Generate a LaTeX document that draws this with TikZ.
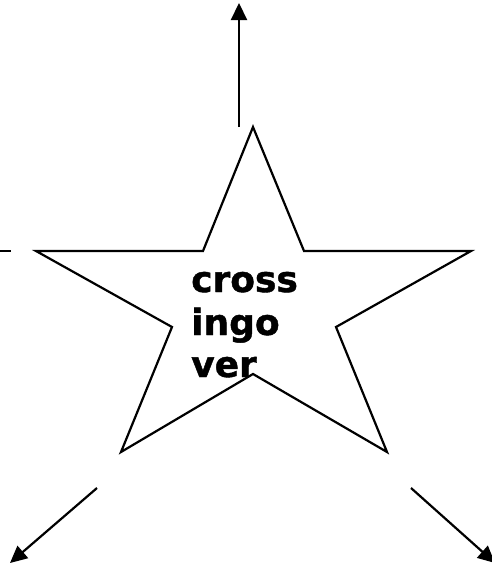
\documentclass[tikz,border=0pt]{standalone}
\usepackage{fontspec}
\setmainfont{DejaVu Sans}
\usetikzlibrary{arrows.meta}
\tikzset{
  edge/.style={line width=2.2pt, line join=miter},
  arrowline/.style={line width=2.2pt, -{Triangle[length=17pt,width=16pt]}},
  label/.style={font=\bfseries\fontsize{36pt}{43pt}\selectfont, anchor=base west, inner sep=0pt, align=left}
}
\begin{document}
\begin{tikzpicture}[x=1pt,y=-1pt]
\useasboundingbox (0,0) rectangle (491,565);
% star points
\coordinate (top) at (253,127);
\coordinate (ir1) at (304,251);
\coordinate (right) at (471,251);
\coordinate (ir2) at (336,327);
\coordinate (br) at (387,452);
\coordinate (ib) at (253,374);
\coordinate (bl) at (121,452);
\coordinate (il2) at (172,327);
\coordinate (left) at (36,251);
\coordinate (il1) at (203,251);
\draw[edge] (top) -- (ir1) -- (right) -- (ir2) -- (br) -- (ib) -- (bl) -- (il2) -- (left) -- (il1) -- cycle;
% text
\node[label] (t1) at (191,292) {\addfontfeature{FakeBold=1.2}cross};
\node[label] (t2) at (191,335) {\addfontfeature{FakeBold=1.2}ingo};
\node[label] (t3) at (191,377) {\addfontfeature{FakeBold=1.2}ver};
% arrows
\coordinate (ua) at (239,127);
\coordinate (ub) at (239,3);
\draw[arrowline] (ua) -- (ub);
\coordinate (la) at (0,251);
\coordinate (lb) at (11,251);
\draw[edge] (la) -- (lb);
\coordinate (bla) at (97,488);
\coordinate (blb) at (10,563);
\draw[arrowline] (bla) -- (blb);
\coordinate (bra) at (411,488);
\coordinate (brb) at (495,563);
\draw[arrowline] (bra) -- (brb);
\end{tikzpicture}
\end{document}
